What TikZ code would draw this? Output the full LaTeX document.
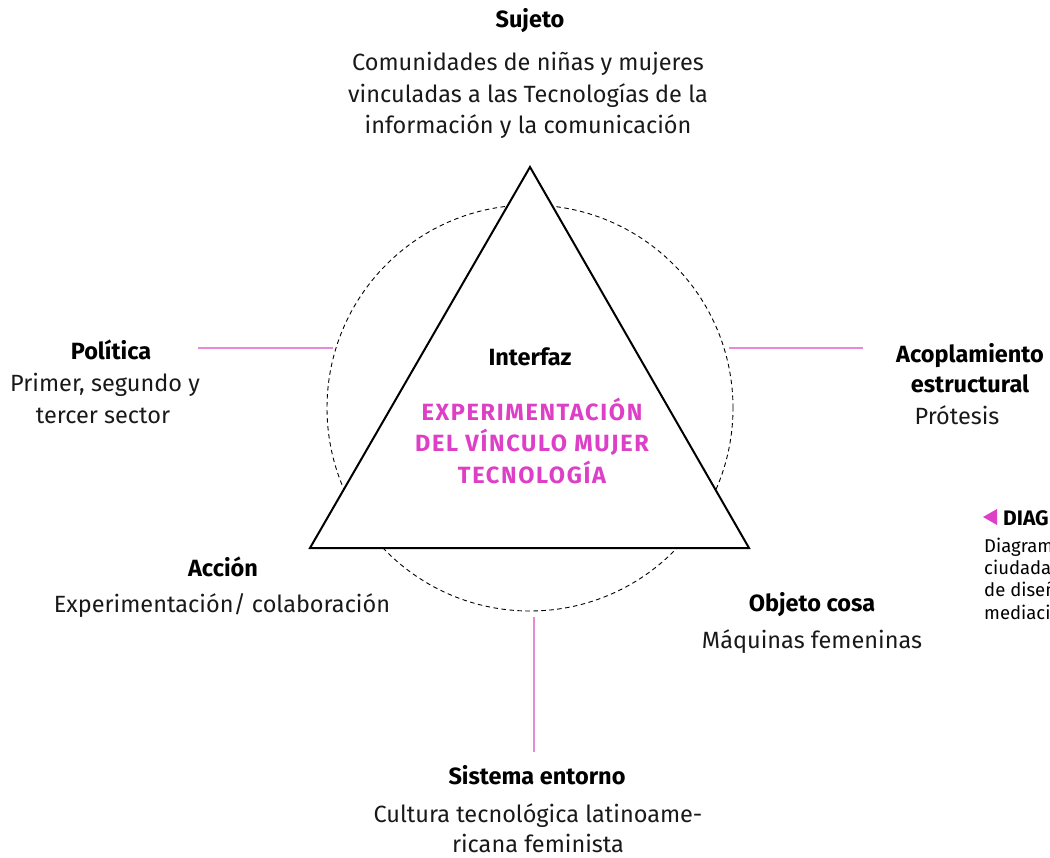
\documentclass[tikz,border=0pt]{standalone}
\usepackage{fontspec}
\setmainfont{Fira Sans}
\definecolor{pinktxt}{HTML}{DD3FC6}
\definecolor{pinkline}{HTML}{E58ADB}
\begin{document}
\begin{tikzpicture}[x=1pt,y=-1pt,
  body/.style={font=\fontsize{23.5}{28}\selectfont, anchor=base, inner sep=0pt, text=black!90},
  head/.style={font=\fontsize{23.5}{28}\selectfont\bfseries, anchor=base, inner sep=0pt},
  pinkhead/.style={font=\fontsize{23.5}{28}\selectfont\bfseries\addfontfeature{LetterSpace=7}, anchor=base, inner sep=0pt, text=pinktxt},
  small/.style={font=\fontsize{18.5}{22}\selectfont, anchor=base west, inner sep=0pt},
  link/.style={pinkline, line width=1.1pt}]
\useasboundingbox (0,0) rectangle (1050,858);
\clip (0,0) rectangle (1050,858);
% dashed circle
\node[circle, draw, dash pattern=on 4.5pt off 3.5pt, line width=0.9pt, minimum size=406pt, inner sep=0pt] (circ) at (530,408) {};
% triangle
\coordinate (A) at (530,167);
\coordinate (B) at (310,548);
\coordinate (C) at (749,548);
\fill[white] (A) -- (B) -- (C) -- cycle;
\draw[line width=2pt, line join=miter] (A) -- (B) -- (C) -- cycle;
% pink connectors
\coordinate (l1) at (198,348); \coordinate (l2) at (333,348);
\coordinate (r1) at (729,348); \coordinate (r2) at (863,348);
\coordinate (b1) at (534,617); \coordinate (b2) at (534,752);
\draw[link] (l1) -- (l2);
\draw[link] (r1) -- (r2);
\draw[link] (b1) -- (b2);
% Sujeto
\node[head] (suj) at (530,28) {Sujeto};
\node[body] (suj1) at (528,71) {Comunidades de niñas y mujeres};
\node[body] (suj2) at (528,103) {vinculadas a las Tecnologías de la};
\node[body] (suj3) at (528,134) {información y la comunicación};
% Interfaz
\node[head] (int) at (530,366) {Interfaz};
\node[pinkhead] (p1) at (532,421) {EXPERIMENTACIÓN};
\node[pinkhead] (p2) at (532,452) {DEL VÍNCULO MUJER};
\node[pinkhead] (p3) at (532,484) {TECNOLOGÍA};
% Politica
\node[head] (pol) at (111,360) {Política};
\node[body] (pol1) at (105,392) {Primer, segundo y};
\node[body] (pol2) at (103,424) {tercer sector};
% Acoplamiento
\node[head] (aco) at (970,363) {Acoplamiento};
\node[head] (aco2) at (970,393) {estructural};
\node[body] (aco3) at (957,425) {Prótesis};
% Accion
\node[head] (acc) at (223,576) {Acción};
\node[body] (acc1) at (222,612) {Experimentación/ colaboración};
% Objeto
\node[head] (obj) at (812,611) {Objeto cosa};
\node[body] (obj1) at (812,648) {Máquinas femeninas};
% Sistema
\node[head] (sis) at (537,784) {Sistema entorno};
\node[body] (sis1) at (538,822) {Cultura tecnológica latinoame-};
\node[body] (sis2) at (538,852) {ricana feminista};
% DIAG side note
\fill[pinktxt] (983,517) -- (997,509) -- (997,525) -- cycle;
\node[small, font=\fontsize{21}{24}\selectfont\bfseries] (dg) at (1003,525) {DIAGRAMA};
\node[small] (d1) at (984,552) {Diagrama};
\node[small] (d2) at (984,574) {ciudadana};
\node[small] (d3) at (984,596) {de diseño};
\node[small] (d4) at (984,619) {mediación};
\end{tikzpicture}
\end{document}
